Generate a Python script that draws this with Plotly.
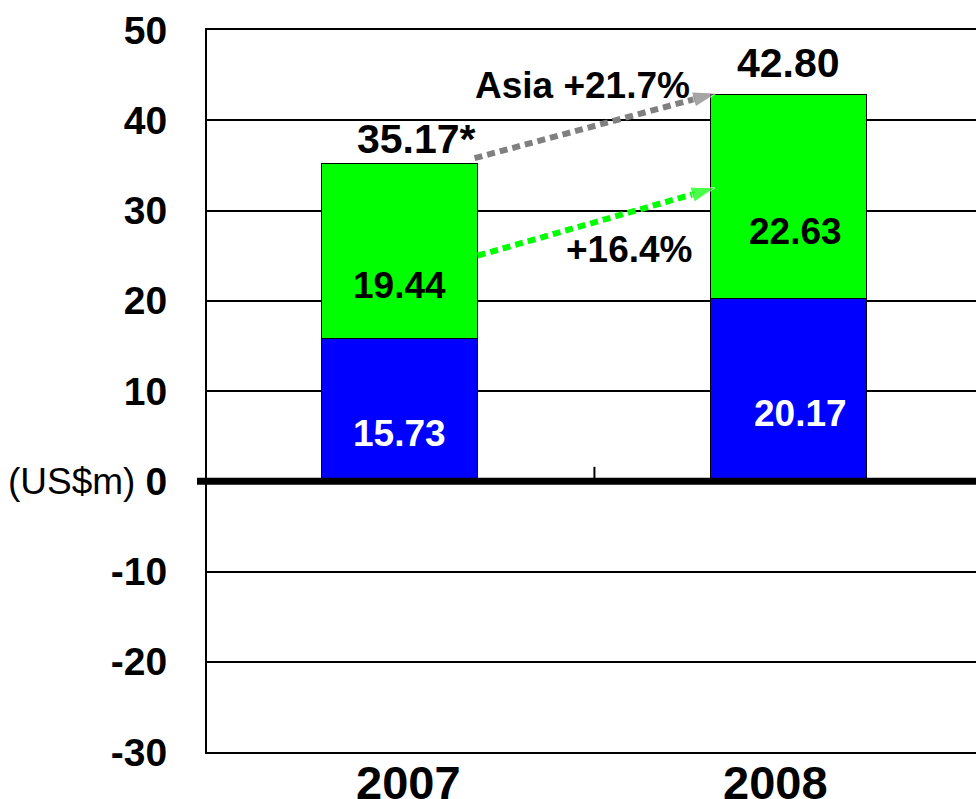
import plotly.graph_objects as go

# ---------------- data ----------------
years = ["2007", "2008"]
x_pos = [0, 1]
blue_vals = [15.73, 20.17]
green_vals = [19.44, 22.63]
totals = [35.17, 42.80]
total_labels = ["35.17*", "42.80"]
blue_labels = ["15.73", "20.17"]
green_labels = ["19.44", "22.63"]
y_ticks = [50, 40, 30, 20, 10, 0, -10, -20, -30]

# growth arrows (start -> tip, in data coordinates)
asia_arrow_x = [0.192, 0.814]
asia_arrow_y = [35.8, 43.0]
green_arrow_x = [0.2, 0.81]
green_arrow_y = [25.0, 32.5]
asia_label = "Asia +21.7%"
green_label = "+16.4%"

FONT = "Liberation Sans, Arial, sans-serif"
BLUE = "#0000FF"
GREEN = "#00FF00"
GREY = "#808080"

fig = go.Figure()
fig.add_trace(go.Bar(x=x_pos, y=blue_vals, width=0.4, marker=dict(color=BLUE, line=dict(color="black", width=1.5)),
                     hoverinfo="skip", showlegend=False))
fig.add_trace(go.Bar(x=x_pos, y=green_vals, width=0.4, marker=dict(color=GREEN, line=dict(color="black", width=1.5)),
                     hoverinfo="skip", showlegend=False))

for ax_, ay_, col in [(asia_arrow_x, asia_arrow_y, GREY), (green_arrow_x, green_arrow_y, GREEN)]:
    fig.add_trace(go.Scatter(
        x=ax_, y=ay_, mode="lines+markers",
        line=dict(color=col, width=6, dash="8px,5px"),
        marker=dict(symbol="arrow", size=[0, 25], angleref="previous", color=col),
        hoverinfo="skip", showlegend=False))

annotations = []
total_yshift = [0, 7]
total_xshift = [17, 0]
# totals
for i, (t, lab) in enumerate(zip(totals, total_labels)):
    annotations.append(dict(x=x_pos[i], y=t, text="<b>%s</b>" % lab, showarrow=False,
                            yanchor="bottom", yshift=total_yshift[i], xshift=total_xshift[i],
                            font=dict(family=FONT, size=41, color="black")))
# segment labels
for i in range(2):
    annotations.append(dict(x=x_pos[i], y=blue_vals[i] / 2 - 2.6, text="<b>%s</b>" % blue_labels[i],
                            showarrow=False, xshift=0 if i == 0 else 12,
                            font=dict(family=FONT, size=37, color="white")))
    annotations.append(dict(x=x_pos[i], y=blue_vals[i] + green_vals[i] / 2 - 3.8, text="<b>%s</b>" % green_labels[i],
                            showarrow=False, xshift=0 if i == 0 else 7,
                            font=dict(family=FONT, size=37, color="black")))
# growth labels
annotations.append(dict(x=asia_arrow_x[0], y=asia_arrow_y[1], text="<b>%s</b>" % asia_label, showarrow=False,
                        xshift=108, yshift=8, font=dict(family=FONT, size=37, color="black")))
annotations.append(dict(x=green_arrow_x[0], y=green_arrow_y[0], text="<b>%s</b>" % green_label, showarrow=False,
                        xshift=152, yshift=6, font=dict(family=FONT, size=37, color="black")))
# category labels
for i, yr in enumerate(years):
    annotations.append(dict(x=x_pos[i], y=-0.042, yref="paper", text="<b>%s</b>" % yr, showarrow=False,
                            xshift=9 if i == 0 else -13, yanchor="middle",
                            font=dict(family=FONT, size=47, color="black")))
# unit label
annotations.append(dict(x=0, y=0, xref="paper", text="(US$m)", showarrow=False, xanchor="right",
                        xshift=-70, yshift=0, font=dict(family=FONT, size=37, color="black")))

shapes = [
    # thick zero line, extending slightly left of the axis
    dict(type="line", xref="paper", yref="y", x0=-0.013, x1=1, y0=0, y1=0,
         line=dict(color="black", width=7), layer="above"),
    # category separator tick on the zero line
    dict(type="line", xref="x", yref="y", x0=0.5, x1=0.5, y0=0, y1=1.6,
         line=dict(color="black", width=2), layer="above"),
]

fig.update_layout(
    width=976, height=799,
    margin=dict(l=207, r=0, t=30, b=47),
    paper_bgcolor="white", plot_bgcolor="white",
    barmode="stack", bargap=0,
    annotations=annotations, shapes=shapes,
    xaxis=dict(range=[-0.496, 1.481], showticklabels=False, showgrid=False, zeroline=False,
               showline=True, linecolor="black", linewidth=2, mirror=True, ticks=""),
    yaxis=dict(range=[-30, 50], tickvals=y_ticks, ticktext=["<b>%d</b>" % v for v in y_ticks],
               tickfont=dict(family=FONT, size=39, color="black"), ticks="", ticklabelstandoff=30,
               showgrid=True, gridcolor="black", gridwidth=1.5, zeroline=False,
               showline=True, linecolor="black", linewidth=2, mirror=False),
)

fig.write_html("out.html", config={"displayModeBar": False},
               post_script="document.body.style.margin='0px';document.body.style.overflow='hidden';")
